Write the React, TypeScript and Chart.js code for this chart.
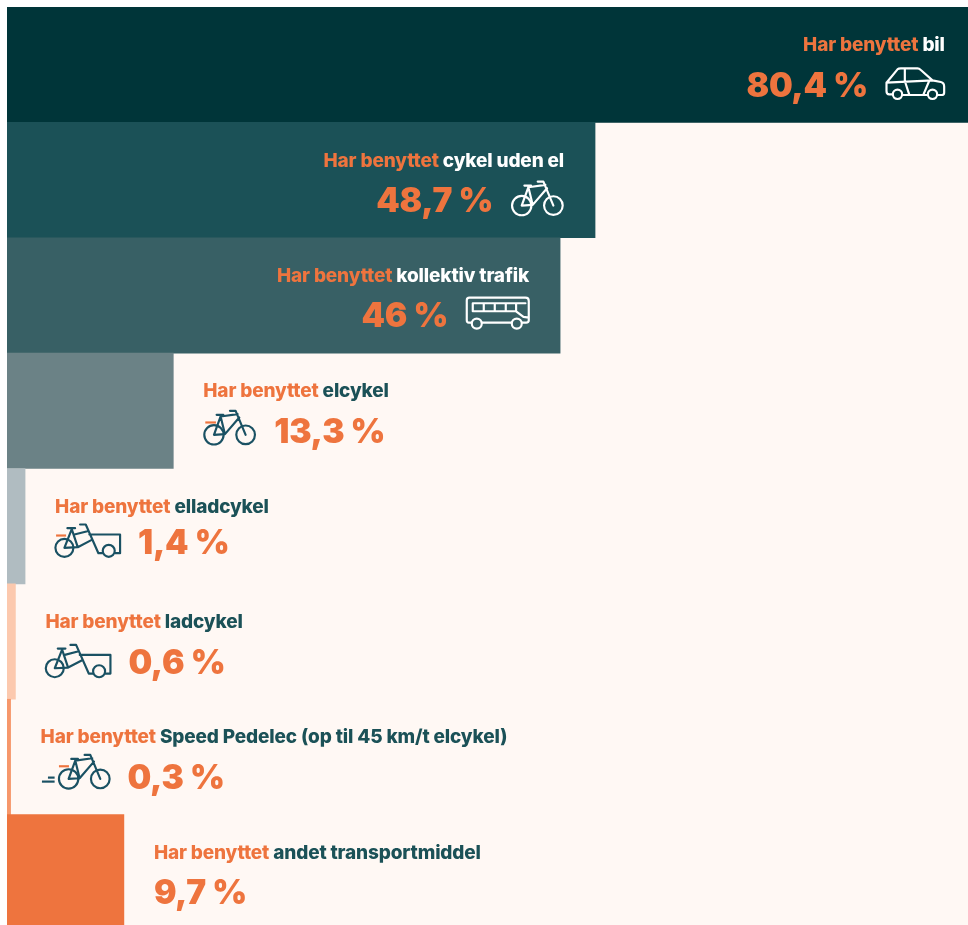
import React, { useEffect, useRef } from "react";
import { Chart, registerables } from "chart.js";

Chart.register(...registerables);

const categories = ["bil", "cykel uden el", "kollektiv trafik", "elcykel", "elladcykel", "ladcykel", "Speed Pedelec (op til 45 km/t elcykel)", "andet transportmiddel"];
const valueLabels = ["80,4 %", "48,7 %", "46 %", "13,3 %", "1,4 %", "0,6 %", "0,3 %", "9,7 %"];
// Bar lengths as measured in the picture; several run slightly longer than their printed labels.
const barLengths = [80.4, 48.8, 45.9, 13.8, 1.5, 0.7, 0.3, 9.7];
const labelPrefix = "Har benyttet ";

const barColors = ["#003539", "#1b5157", "#386065", "#6b8286", "#b0bcc1", "#fcc9ae", "#f6976b", "#ee743e"];
const icons = ["car", "bike", "bus", "ebike", "ecargo", "cargo", "speed", ""];

const ORANGE = "#ee743e";
const TEAL = "#1b5157";
const ICON_TEAL = "#1a5163";
const BG = "#fff8f4";
const X_MAX = 79.75;

type Ctx = CanvasRenderingContext2D;

function stroke(ctx: Ctx, fn: () => void) {
  ctx.beginPath();
  fn();
  ctx.stroke();
}

function drawCar(ctx: Ctx) {
  stroke(ctx, () => {
    ctx.moveTo(20, 80);
    ctx.lineTo(10, 80);
    ctx.quadraticCurveTo(2, 80, 2, 70);
    ctx.lineTo(2, 45);
    ctx.lineTo(35, 5);
    ctx.quadraticCurveTo(38, 2, 45, 2);
    ctx.lineTo(95, 2);
    ctx.quadraticCurveTo(100, 2, 105, 7);
    ctx.lineTo(140, 38);
    ctx.lineTo(165, 43);
    ctx.quadraticCurveTo(175, 45, 175, 57);
    ctx.lineTo(175, 75);
    ctx.quadraticCurveTo(175, 82, 167, 82);
    ctx.lineTo(157, 82);
    ctx.moveTo(50, 82);
    ctx.lineTo(123, 82);
    ctx.moveTo(2, 45);
    ctx.lineTo(140, 38);
    ctx.moveTo(57, 2);
    ctx.lineTo(57, 40);
    ctx.lineTo(70, 80);
    ctx.moveTo(130, 40);
    ctx.lineTo(113, 80);
  });
  stroke(ctx, () => ctx.arc(35, 80, 14, 0, Math.PI * 2));
  stroke(ctx, () => ctx.arc(140, 80, 14, 0, Math.PI * 2));
}

function drawBike(ctx: Ctx) {
  stroke(ctx, () => ctx.arc(32, 75, 29, 0, Math.PI * 2));
  stroke(ctx, () => ctx.arc(127, 75, 28, 0, Math.PI * 2));
  stroke(ctx, () => {
    ctx.moveTo(40, 15);
    ctx.lineTo(60, 15);
    ctx.moveTo(52, 20);
    ctx.lineTo(32, 75);
    ctx.lineTo(65, 73);
    ctx.lineTo(52, 20);
    ctx.lineTo(103, 13);
    ctx.moveTo(80, 3);
    ctx.lineTo(97, 3);
    ctx.lineTo(127, 75);
    ctx.moveTo(108, 23);
    ctx.lineTo(65, 73);
  });
}

function drawCargo(ctx: Ctx) {
  stroke(ctx, () => ctx.arc(28, 74, 27, 0, Math.PI * 2));
  stroke(ctx, () => ctx.arc(161, 83, 18, 0, Math.PI * 2));
  stroke(ctx, () => {
    ctx.moveTo(37, 15);
    ctx.lineTo(60, 15);
    ctx.moveTo(50, 18);
    ctx.lineTo(28, 74);
    ctx.lineTo(68, 72);
    ctx.lineTo(50, 18);
    ctx.moveTo(58, 34);
    ctx.lineTo(97, 24);
    ctx.moveTo(75, 4);
    ctx.lineTo(92, 4);
    ctx.lineTo(130, 90);
    ctx.lineTo(143, 90);
    ctx.moveTo(68, 72);
    ctx.lineTo(110, 50);
    ctx.moveTo(103, 34);
    ctx.lineTo(195, 34);
    ctx.lineTo(195, 90);
    ctx.lineTo(180, 90);
  });
}

function drawBus(ctx: Ctx) {
  stroke(ctx, () => {
    ctx.moveTo(17, 77);
    ctx.lineTo(8, 77);
    ctx.quadraticCurveTo(2, 77, 2, 70);
    ctx.lineTo(2, 10);
    ctx.quadraticCurveTo(2, 2, 10, 2);
    ctx.lineTo(178, 2);
    ctx.quadraticCurveTo(188, 2, 188, 12);
    ctx.lineTo(188, 70);
    ctx.quadraticCurveTo(188, 77, 180, 77);
    ctx.lineTo(168, 77);
    ctx.moveTo(47, 77);
    ctx.lineTo(137, 77);
    ctx.moveTo(178, 19);
    ctx.lineTo(20, 19);
    ctx.lineTo(20, 43);
    ctx.lineTo(150, 43);
    ctx.lineTo(172, 60);
    ctx.lineTo(188, 62);
    ctx.moveTo(150, 19);
    ctx.lineTo(150, 43);
    ctx.moveTo(53, 19);
    ctx.lineTo(53, 43);
    ctx.moveTo(86, 19);
    ctx.lineTo(86, 43);
    ctx.moveTo(119, 19);
    ctx.lineTo(119, 43);
  });
  stroke(ctx, () => ctx.arc(32, 80, 15, 0, Math.PI * 2));
  stroke(ctx, () => ctx.arc(152, 80, 15, 0, Math.PI * 2));
}

const iconSize: Record<string, { w: number; top: number }> = {
  car: { w: 59, top: 3 },
  bike: { w: 53, top: 0.5 },
  bus: { w: 63, top: 1.5 },
  ebike: { w: 54, top: -1 },
  ecargo: { w: 66, top: -3 },
  cargo: { w: 66, top: 2 },
  speed: { w: 70, top: -3 },
  "": { w: 0, top: 0 },
};

function drawIcon(ctx: Ctx, name: string, x: number, y: number, color: string) {
  if (!name) return;
  ctx.save();
  ctx.translate(x, y);
  ctx.scale(1 / 3, 1 / 3);
  ctx.strokeStyle = color;
  ctx.lineWidth = 6.5;
  ctx.lineCap = "round";
  ctx.lineJoin = "round";
  const dash = (x0: number, x1: number, yy: number, c: string) => {
    ctx.save();
    ctx.strokeStyle = c;
    ctx.lineCap = "butt";
    stroke(ctx, () => {
      ctx.moveTo(x0, yy);
      ctx.lineTo(x1, yy);
    });
    ctx.restore();
  };
  if (name === "car") drawCar(ctx);
  if (name === "bike") drawBike(ctx);
  if (name === "bus") drawBus(ctx);
  if (name === "ebike") {
    dash(6, 38, 38, ORANGE);
    drawBike(ctx);
  }
  if (name === "ecargo") {
    dash(3, 33, 37, ORANGE);
    drawCargo(ctx);
  }
  if (name === "cargo") drawCargo(ctx);
  if (name === "speed") {
    dash(4, 42, 83, color);
    dash(22, 42, 71, color);
    dash(55, 85, 37, ORANGE);
    ctx.translate(52, 0);
    drawBike(ctx);
  }
  ctx.restore();
}

const rowLabelsPlugin = {
  id: "rowLabels",
  afterDatasetsDraw(chart: any) {
    const ctx: Ctx = chart.ctx as any;
    const bars = chart.getDatasetMeta(0).data;
    ctx.save();
    ctx.textBaseline = "alphabetic";
    categories.forEach((cat, i) => {
      const bar = bars[i];
      const inside = i < 3;
      const cy = bar.y;
      const labelY = cy - 13.5;
      const valueY = cy + 32 - (i === 4 ? 4 : 0);
      const labelFont = "800 19px Inter";
      const valueFont = "900 33.5px Inter";
      const icon = icons[i];
      const size = iconSize[icon];

      const setValueFont = () => {
        ctx.font = valueFont;
        (ctx as any).letterSpacing = "-0.3px";
      };
      const setLabelFont = () => {
        ctx.font = labelFont;
        (ctx as any).letterSpacing = "-0.15px";
      };

      setLabelFont();
      const wa = ctx.measureText(labelPrefix).width;
      const wb = ctx.measureText(cat).width;
      setValueFont();
      const wv = ctx.measureText(valueLabels[i]).width;

      ctx.textAlign = "left";
      if (inside) {
        const right = bar.x - 31;
        setLabelFont();
        ctx.fillStyle = ORANGE;
        ctx.fillText(labelPrefix, right - wa - wb, labelY);
        ctx.fillStyle = "#ffffff";
        ctx.fillText(cat, right - wb, labelY);
        const iconX = right - size.w;
        drawIcon(ctx, icon, iconX, cy + size.top, "#ffffff");
        setValueFont();
        ctx.fillStyle = ORANGE;
        ctx.fillText(valueLabels[i], iconX - 18 - wv, valueY);
      } else {
        const left = bar.x + 30;
        setLabelFont();
        ctx.fillStyle = ORANGE;
        ctx.fillText(labelPrefix, left, labelY);
        ctx.fillStyle = TEAL;
        ctx.fillText(cat, left + wa, labelY);
        drawIcon(ctx, icon, left, cy + size.top, ICON_TEAL);
        setValueFont();
        ctx.fillStyle = ORANGE;
        ctx.fillText(valueLabels[i], left + size.w + (size.w ? 17 : 0), valueY);
      }
    });
    ctx.restore();
  },
};

const backgroundPlugin = {
  id: "pageBackground",
  beforeDraw(chart: any) {
    const { ctx, width, height } = chart;
    ctx.save();
    ctx.fillStyle = BG;
    ctx.fillRect(0, 0, width, height);
    ctx.restore();
  },
};

export default function App() {
  const ref = useRef<HTMLCanvasElement>(null);
  useEffect(() => {
    if (!ref.current) return;
    const chart = new Chart(ref.current, {
      type: "bar",
      data: {
        labels: categories,
        datasets: [
          {
            data: barLengths,
            backgroundColor: barColors,
            borderWidth: 0,
            categoryPercentage: 1,
            barPercentage: 1,
          },
        ],
      },
      options: {
        indexAxis: "y",
        responsive: false,
        animation: false,
        layout: { padding: 0 },
        plugins: { legend: { display: false }, tooltip: { enabled: false }, title: { display: false } },
        scales: {
          x: { display: false, min: 0, max: X_MAX },
          y: { display: false },
        },
      },
      plugins: [backgroundPlugin, rowLabelsPlugin],
    } as any);
    return () => chart.destroy();
  }, []);
  return (
    <div style={{ position: "absolute", left: 7, top: 7, width: 961, height: 918, overflow: "hidden" }}>
      <canvas ref={ref} width={961} height={923} style={{ display: "block" }} />
    </div>
  );
}
